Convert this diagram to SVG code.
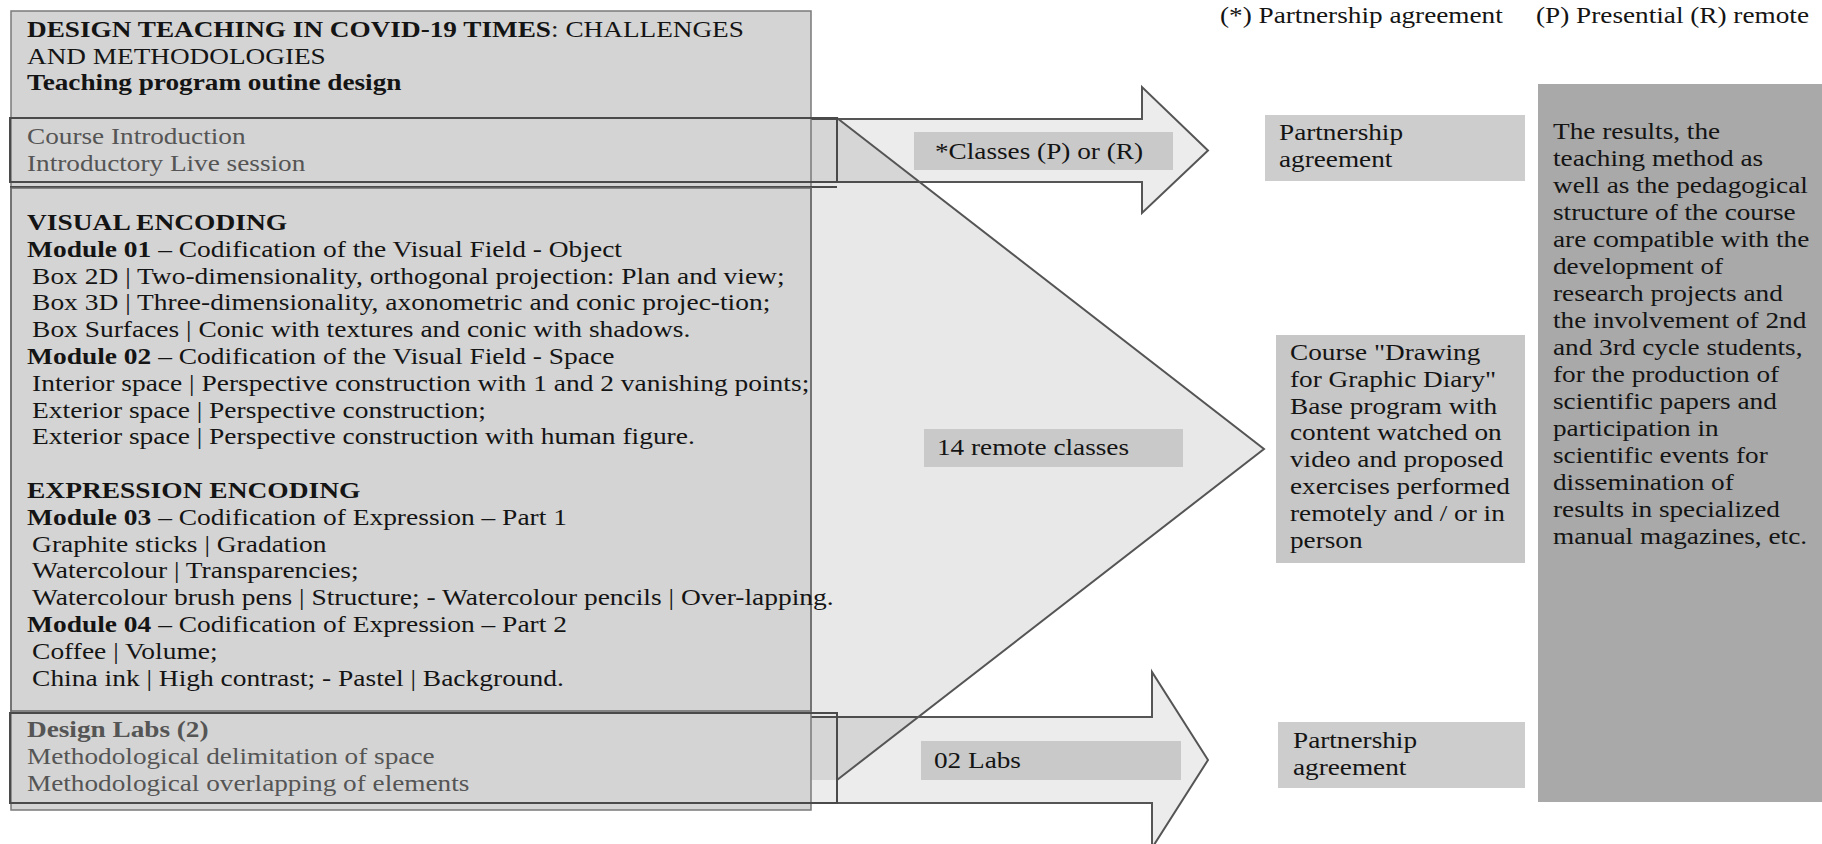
<svg xmlns="http://www.w3.org/2000/svg" width="1822" height="844" viewBox="0 0 1822 844">
<style>
.t{font-family:"Liberation Serif","Times New Roman",serif;font-size:22.7px;fill:#141414}
.g{fill:#555}
.b{font-weight:bold}
.arrow{fill:#ececec;stroke:#555;stroke-width:2}
.lbl{fill:#c9c9c9}
.line{fill:none;stroke:#555;stroke-width:2}
</style>
<rect x="0" y="0" width="1822" height="844" fill="#fff"/>

<g id="connectors">
  <polygon class="arrow" points="780,119 1142,119 1142,87 1208,150.5 1142,213 1142,182 780,182"/>
  <polygon class="arrow" points="780,717 1152,717 1152,672 1208,760 1152,848 1152,803 780,803"/>
  <polygon points="700,118 837,118 1264,449 837,780 700,780" fill="#000" fill-opacity="0.09"/>
  <polyline class="line" points="837,118 1264,449 837,780"/>
</g>

<g id="label-classes">
  <rect class="lbl" x="914" y="132" width="259" height="38"/>
  <text class="t" transform="translate(935 0) scale(1.2 1)"><tspan x="0" y="159">*Classes (P) or (R)</tspan></text>
</g>
<g id="label-remote">
  <rect class="lbl" x="924" y="429" width="259" height="38"/>
  <text class="t" transform="translate(937 0) scale(1.2 1)"><tspan x="0" y="455">14 remote classes</tspan></text>
</g>
<g id="label-labs">
  <rect class="lbl" x="921" y="741" width="260" height="39"/>
  <text class="t" transform="translate(934 0) scale(1.2 1)"><tspan x="0" y="768">02 Labs</tspan></text>
</g>

<g id="left-box">
  <rect x="11" y="11" width="800" height="799" fill="#d4d4d4" stroke="#7a7a7a" stroke-width="1.5"/>
</g>

<g id="title">
  <text class="t" transform="translate(27 0) scale(1.2 1)">
    <tspan x="0" y="37"><tspan class="b">DESIGN TEACHING IN COVID-19 TIMES</tspan>: CHALLENGES</tspan>
    <tspan x="0" y="64">AND METHODOLOGIES</tspan>
    <tspan x="0" y="90.5" class="b">Teaching program outine design</tspan>
  </text>
</g>

<g id="course-introduction">
  <rect x="10" y="118" width="827" height="64" fill="none" stroke="#4a4a4a" stroke-width="2"/>
  <line x1="10" y1="187" x2="837" y2="187" stroke="#4a4a4a" stroke-width="2"/>
  <text class="t g" transform="translate(27 0) scale(1.2 1)">
    <tspan x="0" y="144">Course Introduction</tspan>
    <tspan x="0" y="171">Introductory Live session</tspan>
  </text>
</g>

<g id="encoding-modules">
  <rect x="11" y="188" width="800" height="523" fill="none" stroke="#6a6a6a" stroke-width="1.5"/>
  <text class="t" transform="translate(27 0) scale(1.21 1)">
    <tspan x="0" y="230" class="b">VISUAL ENCODING</tspan>
    <tspan x="0" y="256.8"><tspan class="b">Module 01</tspan> – Codification of the Visual Field - Object</tspan>
    <tspan x="4.2" y="283.6">Box 2D | Two-dimensionality, orthogonal projection: Plan and view;</tspan>
    <tspan x="4.2" y="310.4">Box 3D | Three-dimensionality, axonometric and conic projec-tion;</tspan>
    <tspan x="4.2" y="337.2">Box Surfaces | Conic with textures and conic with shadows.</tspan>
    <tspan x="0" y="364"><tspan class="b">Module 02</tspan> – Codification of the Visual Field - Space</tspan>
    <tspan x="4.2" y="390.8">Interior space | Perspective construction with 1 and 2 vanishing points;</tspan>
    <tspan x="4.2" y="417.6">Exterior space | Perspective construction;</tspan>
    <tspan x="4.2" y="444.4">Exterior space | Perspective construction with human figure.</tspan>
    <tspan x="0" y="498" class="b">EXPRESSION ENCODING</tspan>
    <tspan x="0" y="524.8"><tspan class="b">Module 03</tspan> – Codification of Expression – Part 1</tspan>
    <tspan x="4.2" y="551.6">Graphite sticks | Gradation</tspan>
    <tspan x="4.2" y="578.4">Watercolour | Transparencies;</tspan>
    <tspan x="4.2" y="605.2">Watercolour brush pens | Structure; - Watercolour pencils | Over-lapping.</tspan>
    <tspan x="0" y="632"><tspan class="b">Module 04</tspan> – Codification of Expression – Part 2</tspan>
    <tspan x="4.2" y="658.8">Coffee | Volume;</tspan>
    <tspan x="4.2" y="685.6">China ink | High contrast; - Pastel | Background.</tspan>
  </text>
</g>

<g id="design-labs">
  <rect x="10" y="713" width="827" height="90" fill="none" stroke="#4a4a4a" stroke-width="2"/>
  <text class="t g" transform="translate(27 0) scale(1.2 1)">
    <tspan x="0" y="737" class="b">Design Labs (2)</tspan>
    <tspan x="0" y="764">Methodological delimitation of space</tspan>
    <tspan x="0" y="791">Methodological overlapping of elements</tspan>
  </text>
</g>

<g id="legend">
  <text class="t" transform="translate(1220 0) scale(1.2 1)"><tspan x="0" y="23">(*) Partnership agreement</tspan></text>
  <text class="t" transform="translate(1536 0) scale(1.2 1)"><tspan x="0" y="23">(P) Presential (R) remote</tspan></text>
</g>

<g id="partnership-top">
  <rect x="1265" y="115" width="260" height="66" fill="#cdcdcd"/>
  <text class="t" transform="translate(1279 0) scale(1.2 1)">
    <tspan x="0" y="140">Partnership</tspan>
    <tspan x="0" y="167">agreement</tspan>
  </text>
</g>

<g id="course-drawing">
  <rect x="1276" y="335" width="249" height="228" fill="#c7c7c7"/>
  <text class="t" transform="translate(1290 0) scale(1.2 1)">
    <tspan x="0" y="360">Course "Drawing</tspan>
    <tspan x="0" y="386.8">for Graphic Diary"</tspan>
    <tspan x="0" y="413.6">Base program with</tspan>
    <tspan x="0" y="440.4">content watched on</tspan>
    <tspan x="0" y="467.2">video and proposed</tspan>
    <tspan x="0" y="494">exercises performed</tspan>
    <tspan x="0" y="520.8">remotely and / or in</tspan>
    <tspan x="0" y="547.6">person</tspan>
  </text>
</g>

<g id="partnership-bottom">
  <rect x="1278" y="722" width="247" height="66" fill="#cdcdcd"/>
  <text class="t" transform="translate(1293 0) scale(1.2 1)">
    <tspan x="0" y="748">Partnership</tspan>
    <tspan x="0" y="775">agreement</tspan>
  </text>
</g>

<g id="results">
  <rect x="1538" y="84" width="284" height="718" fill="#a9a9a9"/>
  <text class="t" transform="translate(1553 0) scale(1.2 1)">
    <tspan x="0" y="139">The results, the</tspan>
    <tspan x="0" y="166">teaching method as</tspan>
    <tspan x="0" y="193">well as the pedagogical</tspan>
    <tspan x="0" y="220">structure of the course</tspan>
    <tspan x="0" y="247">are compatible with the</tspan>
    <tspan x="0" y="274">development of</tspan>
    <tspan x="0" y="301">research projects and</tspan>
    <tspan x="0" y="328">the involvement of 2nd</tspan>
    <tspan x="0" y="355">and 3rd cycle students,</tspan>
    <tspan x="0" y="382">for the production of</tspan>
    <tspan x="0" y="409">scientific papers and</tspan>
    <tspan x="0" y="436">participation in</tspan>
    <tspan x="0" y="463">scientific events for</tspan>
    <tspan x="0" y="490">dissemination of</tspan>
    <tspan x="0" y="517">results in specialized</tspan>
    <tspan x="0" y="544">manual magazines, etc.</tspan>
  </text>
</g>
</svg>
